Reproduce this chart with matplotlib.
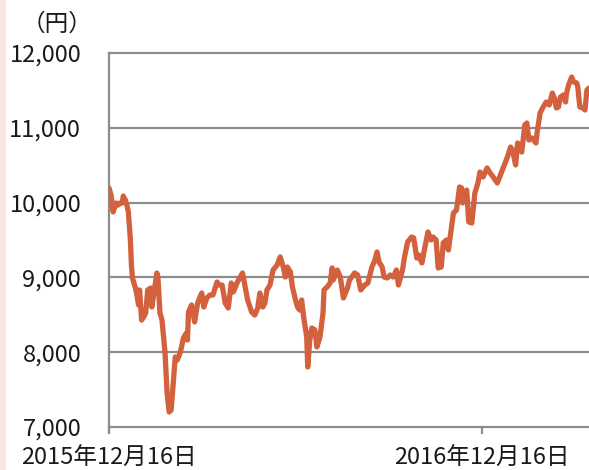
import matplotlib
matplotlib.use("Agg")
import matplotlib.pyplot as plt
import matplotlib.patches as mpatches
import numpy as np
import pandas as pd

plt.rcParams['font.family'] = ['Noto Sans CJK JP', 'DejaVu Sans']

start_date = "2015-12-16"
end_day = 471
# day offsets from start date and price values (円)
days = [0, 2, 4, 7, 9, 11, 13, 14, 16, 18, 19, 21, 22, 23, 25, 26, 27, 29, 30, 32,
        34, 36, 38, 41, 42, 45, 47, 48, 50, 52, 55, 57, 59, 61, 62, 64, 65, 67, 69, 71,
        72, 73, 76, 77, 78, 81, 84, 87, 91, 93, 96, 99, 102, 106, 108, 111, 114, 117, 120, 122,
        126, 131, 132, 136, 140, 143, 146, 148, 151, 153, 155, 158, 161, 165, 168, 171, 173, 175, 178, 180,
        183, 185, 187, 189, 191, 194, 195, 197, 199, 202, 204, 207, 210, 211, 214, 217, 219, 220, 224, 227,
        230, 234, 236, 241, 244, 247, 251, 254, 258, 261, 263, 265, 268, 270, 273, 276, 279, 282, 284, 288,
        290, 293, 297, 299, 302, 304, 307, 310, 313, 316, 318, 321, 323, 326, 328, 331, 333, 336, 338, 341,
        344, 346, 347, 351, 353, 356, 359, 362, 364, 367, 371, 374, 377, 381, 386, 391, 394, 396, 399, 401,
        405, 408, 410, 412, 415, 419, 420, 423, 426, 429, 432, 435, 437, 439, 441, 443, 446, 448, 449, 451,
        454, 456, 459, 460, 462, 465, 467, 469, 471]
values = [10195, 10100, 9875, 9995, 9968, 9995, 9995, 10088, 10035, 9941, 9875, 9500, 9166, 8992, 8898, 8858, 8791, 8631, 8832, 8430,
          8471, 8524, 8832, 8858, 8604, 8872, 9059, 9005, 8524, 8430, 7989, 7455, 7201, 7227, 7401, 7762, 7936, 7896, 7963, 8056,
          8123, 8190, 8257, 8163, 8537, 8631, 8404, 8658, 8791, 8604, 8725, 8765, 8765, 8939, 8898, 8898, 8658, 8591, 8925, 8805,
          8939, 9059, 8992, 8698, 8537, 8497, 8591, 8791, 8604, 8658, 8832, 8898, 9099, 9166, 9273, 9139, 9005, 9139, 9072, 8872,
          8698, 8604, 8564, 8698, 8471, 8203, 7802, 8163, 8324, 8297, 8070, 8203, 8524, 8832, 8872, 8925, 9126, 8965, 9099, 9005,
          8725, 8858, 8965, 9059, 9032, 8832, 8898, 8925, 9139, 9233, 9340, 9206, 9139, 9005, 8992, 9032, 9005, 9099, 8898, 9099,
          9273, 9473, 9540, 9527, 9259, 9299, 9193, 9406, 9607, 9500, 9540, 9500, 9126, 9139, 9460, 9500, 9366, 9660, 9861, 9901,
          10209, 10195, 9995, 10168, 9741, 9727, 10128, 10262, 10409, 10342, 10463, 10396, 10342, 10262, 10436, 10610, 10743, 10703, 10503, 10797,
          10676, 11037, 11064, 10837, 10864, 10797, 10930, 11198, 11278, 11345, 11305, 11465, 11398, 11265, 11278, 11412, 11439, 11345, 11465, 11572,
          11679, 11612, 11599, 11545, 11278, 11265, 11238, 11505, 11532]

y_ticks = [7000, 8000, 9000, 10000, 11000, 12000]
x_tick_dates = ["2015-12-16", "2016-12-16"]
x_tick_labels = ["2015年12月16日", "2016年12月16日"]
unit_label = "（円）"

t0 = pd.Timestamp(start_date)
dates = [t0 + pd.Timedelta(days=d) for d in days]

fig = plt.figure(figsize=(5.89, 4.70), dpi=100)
# decorative pink stripe at left edge
fig.patches.append(mpatches.Rectangle((0, 0), 6 / 589, 1, transform=fig.transFigure,
                                      facecolor="#f8e6e6", edgecolor="none", zorder=0))
ax = fig.add_axes([109 / 589, 43 / 470, 480 / 589, 374 / 470])

grid_color = "#8c8c8c"
for yv in y_ticks:
    ax.axhline(yv, color=grid_color, lw=1.6, zorder=1, clip_on=False)

ax.plot(dates, values, color="#d4613e", lw=3.8, solid_joinstyle="round",
        solid_capstyle="round", zorder=3)

ax.set_xlim(t0, t0 + pd.Timedelta(days=end_day))
ax.set_ylim(7000, 12000)

ax.set_yticks(y_ticks)
ax.set_yticklabels([f"{v:,}" for v in y_ticks], fontsize=17, color="#1a1a1a")
ax.tick_params(axis="y", length=0, pad=20)

ax.set_xticks([pd.Timestamp(d) for d in x_tick_dates])
ax.set_xticklabels(x_tick_labels, fontsize=17, color="#1a1a1a")
ax.tick_params(axis="x", length=5, width=1.6, color=grid_color, pad=9)

for s in ["top", "right", "bottom"]:
    ax.spines[s].set_visible(False)
ax.spines["left"].set_color(grid_color)
ax.spines["left"].set_linewidth(1.6)
ax.spines["left"].set_bounds(6930, 12000)

fig.text(57 / 589, 1 - 24 / 470, unit_label, ha="center", va="center",
         fontsize=17, color="#1a1a1a")

fig.savefig("out.png", dpi=100, facecolor="white")
